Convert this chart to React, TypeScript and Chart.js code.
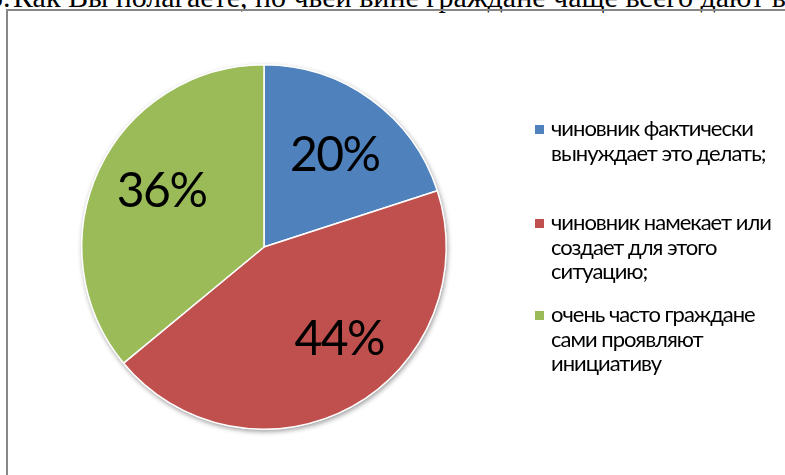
import React, { useEffect, useRef } from "react";
import { Chart, registerables } from "chart.js";

Chart.register(...registerables);

// ---- data ----
const titleNumber = "5.";
const titleText = "Как Вы полагаете, по чьей вине граждане чаще всего дают взятки?";
const categoryLines: string[][] = [
  ["чиновник фактически", "вынуждает это делать;"],
  ["чиновник намекает или", "создает для этого", "ситуацию;"],
  ["очень часто граждане", "сами проявляют", "инициативу"],
];
const values = [20, 44, 36];
const percentLabels = ["20%", "44%", "36%"];
const colors = ["#4F81BD", "#C0504D", "#9BBB59"];

const FONT = "Lato, 'Open Sans', sans-serif";

const shadowPlugin = {
  id: "pieShadow",
  beforeDatasetsDraw(chart: any) {
    const arc = chart.getDatasetMeta(0).data[0];
    if (!arc) return;
    const { x, y, outerRadius } = arc.getProps(["x", "y", "outerRadius"], true);
    const ctx = chart.ctx;
    ctx.save();
    ctx.shadowColor = "rgba(0,0,0,0.4)";
    ctx.shadowBlur = 5;
    ctx.shadowOffsetX = 1;
    ctx.shadowOffsetY = 2;
    ctx.fillStyle = "#ffffff";
    ctx.beginPath();
    ctx.arc(x, y, outerRadius + 0.5, 0, Math.PI * 2);
    ctx.fill();
    ctx.restore();
  },
};

const sliceLabelPlugin = {
  id: "sliceLabels",
  afterDatasetsDraw(chart: any, _args: any, opts: any) {
    const ctx = chart.ctx;
    const meta = chart.getDatasetMeta(0);
    ctx.save();
    ctx.font = `${opts.size}px ${FONT}`;
    (ctx as any).letterSpacing = opts.spacing;
    ctx.fillStyle = "#000000";
    ctx.textAlign = "center";
    ctx.textBaseline = "alphabetic";
    meta.data.forEach((arc: any, i: number) => {
      const { x, y, startAngle, endAngle, outerRadius } = arc.getProps(
        ["x", "y", "startAngle", "endAngle", "outerRadius"],
        true
      );
      const mid = (startAngle + endAngle) / 2 + ((opts.angleShift[i] || 0) * Math.PI) / 180;
      const r = outerRadius * opts.radiusFactor;
      const cx = x + Math.cos(mid) * r;
      const cy = y + Math.sin(mid) * r;
      const text = percentLabels[i];
      const m = ctx.measureText(text);
      const h = m.actualBoundingBoxAscent - m.actualBoundingBoxDescent;
      ctx.fillText(text, cx, cy + h / 2);
    });
    ctx.restore();
  },
};

const legendPlugin = {
  id: "wrappedLegend",
  afterDraw(chart: any, _args: any, opts: any) {
    const ctx = chart.ctx;
    const bg = chart.data.datasets[0].backgroundColor as string[];
    ctx.save();
    ctx.font = `${opts.size}px ${FONT}`;
    (ctx as any).letterSpacing = opts.spacing;
    ctx.textAlign = "left";
    ctx.textBaseline = "alphabetic";
    categoryLines.forEach((lines, i) => {
      const base = opts.baselines[i];
      ctx.fillStyle = bg[i];
      ctx.fillRect(opts.boxX, base - 11, 9, 9);
      ctx.fillStyle = "#000000";
      lines.forEach((line, j) => {
        ctx.fillText(line, opts.textX, base + j * opts.lineHeight);
      });
    });
    ctx.restore();
  },
};

export default function App() {
  const canvasRef = useRef<HTMLCanvasElement | null>(null);

  useEffect(() => {
    if (!canvasRef.current) return;
    const chart = new Chart(canvasRef.current, {
      type: "pie",
      data: {
        labels: categoryLines.map((l) => l.join(" ")),
        datasets: [
          {
            data: values,
            backgroundColor: colors,
            borderColor: "#ffffff",
            borderWidth: 1.5,
          },
        ],
      },
      options: {
        responsive: false,
        animation: false,
        devicePixelRatio: 1,
        layout: { padding: { left: 81, top: 64, right: 338, bottom: 45 } },
        plugins: {
          legend: { display: false },
          tooltip: { enabled: false },
          title: { display: false },
          sliceLabels: {
            size: 48,
            spacing: "-1.5px",
            radiusFactor: 0.645,
            angleShift: [1, -11, 4.2],
          },
          wrappedLegend: {
            size: 22,
            spacing: "-1px",
            boxX: 535,
            textX: 551,
            baselines: [136, 230, 322],
            lineHeight: 24.7,
          },
        } as any,
      },
      plugins: [shadowPlugin, sliceLabelPlugin, legendPlugin],
    });
    return () => chart.destroy();
  }, []);

  const titleStyle: React.CSSProperties = {
    position: "absolute",
    top: -18,
    fontFamily: "'Liberation Serif', 'Times New Roman', serif",
    fontSize: 30,
    lineHeight: "30px",
    whiteSpace: "nowrap",
    color: "#000",
  };

  return (
    <div
      style={{
        position: "fixed",
        left: 0,
        top: 0,
        width: 785,
        height: 475,
        overflow: "hidden",
        background: "#ffffff",
      }}
    >
      <div style={{ ...titleStyle, left: -12 }}>{titleNumber}</div>
      <div style={{ ...titleStyle, left: 13 }}>{titleText}</div>
      <div
        style={{
          position: "absolute",
          left: 6,
          top: 9,
          width: 900,
          height: 600,
          border: "2px solid #878787",
          boxSizing: "border-box",
        }}
      />
      <canvas
        ref={canvasRef}
        width={785}
        height={475}
        style={{ position: "absolute", left: 0, top: 0, width: 785, height: 475 }}
      />
    </div>
  );
}
